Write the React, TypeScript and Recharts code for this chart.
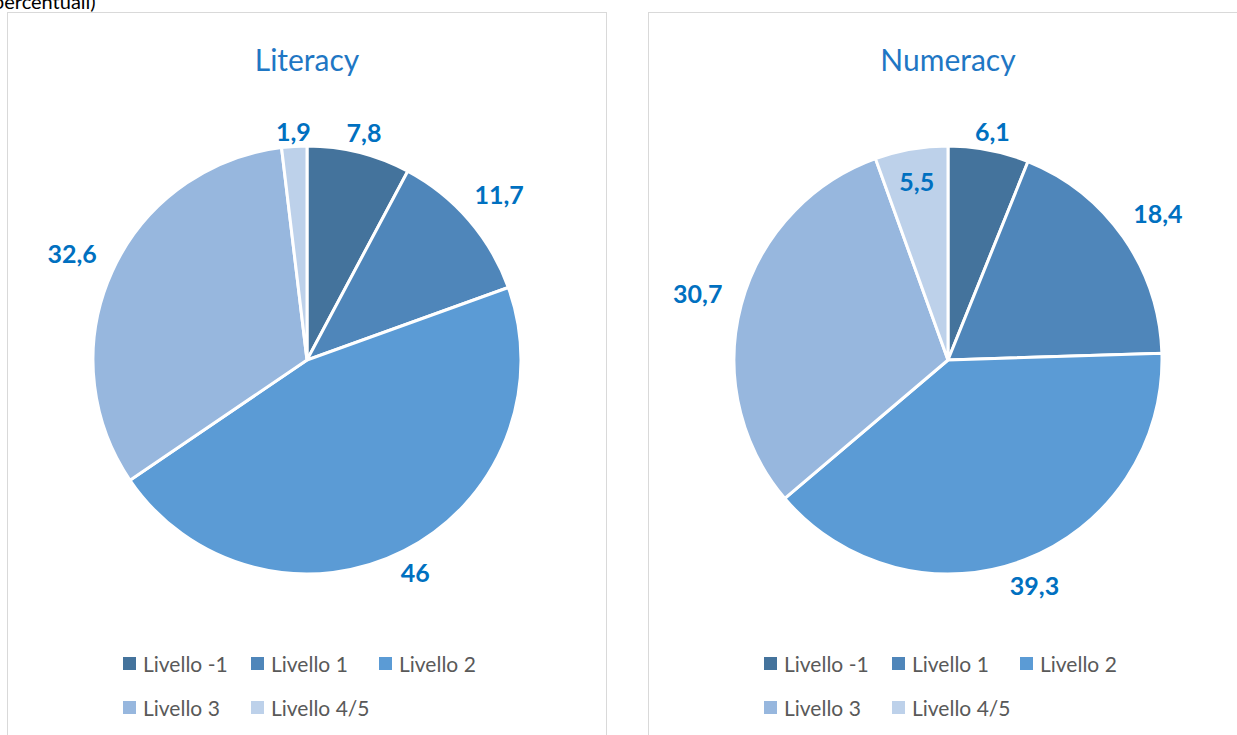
import { Legend, Pie, PieChart, Cell } from 'recharts';
import { type FC } from 'react'

// livelli di competenza (percentuali)
const levels = ['Livello -1', 'Livello 1', 'Livello 2', 'Livello 3', 'Livello 4/5']
const literacyValues = [7.8, 11.7, 46, 32.6, 1.9]
const numeracyValues = [6.1, 18.4, 39.3, 30.7, 5.5]
const levelColors = ['#44739C', '#4F86BA', '#5B9BD5', '#97B7DE', '#BDD1EA']

const FONT = 'Lato, "Open Sans", sans-serif'
const RADIAN = Math.PI / 180

interface PanelProps {
    title: string
    values: number[]
    left: number
    insideLabels?: number[]
}

const fmt = (v: number) => String(v).replace('.', ',')

const PiePanel: FC<PanelProps> = ({ title, values, left, insideLabels = [] }) => {
    const data = levels.map((name, i) => ({ name, value: values[i] }))

    const renderLabel = (props: any) => {
        const { cx, cy, midAngle, outerRadius, value, index } = props
        const cos = Math.cos(-midAngle * RADIAN)
        const sin = Math.sin(-midAngle * RADIAN)
        const text = fmt(value)
        let d: number
        if (insideLabels.includes(index)) {
            d = outerRadius * 0.85
        } else {
            // etichetta fuori dal bordo, distanza in base all'ingombro del testo
            const w = text.length * 13
            d = outerRadius + 4 + 9 * Math.abs(sin) + (w / 2 + 14) * Math.abs(cos)
        }
        return (
            <text x={cx + d * cos} y={cy + d * sin} textAnchor="middle" dominantBaseline="central"
                fill="#0070C0" fontSize={25} fontWeight={700} fontFamily={FONT}>{text}</text>
        )
    }

    const renderLegend = (props: any) => {
        const payload = props.payload || []
        return (
            <div style={{ display: 'grid', gridTemplateColumns: 'repeat(3, 128px)', rowGap: 20, fontFamily: FONT }}>
                {payload.map((entry: any) => (
                    <div key={entry.value} style={{ display: 'flex', alignItems: 'center', height: 24 }}>
                        <span style={{ width: 13, height: 13, background: entry.color, marginRight: 7, display: 'inline-block' }} />
                        <span style={{ fontSize: 21, color: '#595959' }}>{entry.value}</span>
                    </div>
                ))}
            </div>
        )
    }

    return (
        <div style={{
            position: 'absolute', left, top: 12, width: 600, height: 740,
            border: '1px solid #D9D9D9', background: '#fff', boxSizing: 'border-box'
        }}>
            <div style={{
                position: 'absolute', left: 0, width: '100%', top: 28, textAlign: 'center',
                fontFamily: FONT, fontSize: 30, color: '#1F77C4'
            }}>{title}</div>
            <PieChart width={598} height={726} margin={{ top: 0, right: 0, bottom: 0, left: 0 }}>
                <Pie
                    data={data}
                    dataKey="value"
                    nameKey="name"
                    cx={299}
                    cy={347}
                    outerRadius={214}
                    startAngle={90}
                    endAngle={-270}
                    stroke="#ffffff"
                    strokeWidth={3}
                    label={renderLabel}
                    labelLine={false}
                    isAnimationActive={false}
                >
                    {data.map((d, i) => (
                        <Cell key={d.name} fill={levelColors[i]} />
                    ))}
                </Pie>
                <Legend
                    content={renderLegend}
                    layout="horizontal"
                    wrapperStyle={{ position: 'absolute', left: 115, top: 638, width: 400 }}
                />
            </PieChart>
        </div>
    )
}

export default function App() {
    return (
        <div style={{ position: 'absolute', left: 0, top: 0, width: 1237, height: 735, overflow: 'hidden', background: '#fff' }}>
            <div style={{
                position: 'absolute', left: -7, top: -9, fontFamily: FONT, fontSize: 20, color: '#000',
                lineHeight: '20px', zIndex: 2
            }}>percentuali)</div>
            <PiePanel title="Literacy" values={literacyValues} left={7} />
            <PiePanel title="Numeracy" values={numeracyValues} left={648} insideLabels={[4]} />
        </div>
    )
}
